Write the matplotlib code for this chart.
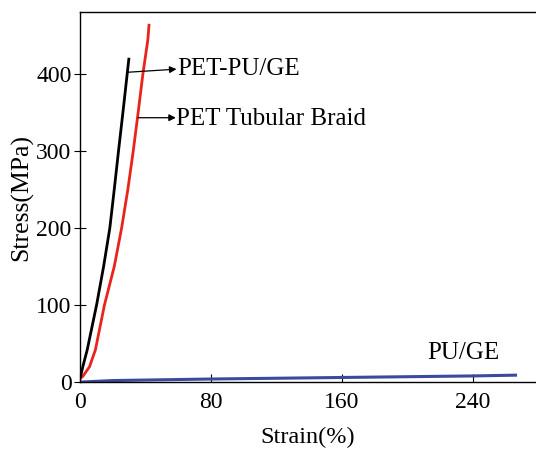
import numpy as np
import matplotlib
matplotlib.use('Agg')
import matplotlib.pyplot as plt

plt.rcParams['font.family'] = ['Liberation Serif', 'DejaVu Serif']

# PET-PU/GE (black)
strain_pet_pu = [0, 0.6, 1.8, 4.5, 10.2, 14.5, 18.3, 21, 23.6, 26.3, 28.9, 29.9]
stress_pet_pu = [5, 9, 20, 42, 100, 150, 200, 250, 300, 350, 400, 419]

# PET Tubular Braid (red)
strain_braid = [0, 2, 5.9, 9.5, 15, 21, 25.5, 29.3, 32.6, 35.6, 38.5, 41.5, 42.2]
stress_braid = [4, 8, 20, 42, 100, 150, 200, 250, 300, 350, 400, 444, 463]

# PU/GE (blue)
strain_pu = [0, 20, 80, 160, 240, 266]
stress_pu = [0, 2, 4, 6, 8, 9]

xticks = [0, 80, 160, 240]
yticks = [0, 100, 200, 300, 400]

fig = plt.figure(figsize=(5.36, 4.49), dpi=100)
ax = fig.add_axes([0.149, 0.149, 0.851, 0.824])

ax.plot(strain_pu, stress_pu, color='#3a4a9e', lw=2.2)
ax.plot(strain_braid, stress_braid, color='#e8241c', lw=2.0)
ax.plot(strain_pet_pu, stress_pet_pu, color='black', lw=2.0)

ax.set_xlim(0, 278.5)
ax.set_ylim(0, 480)
ax.set_xticks(xticks)
ax.set_yticks(yticks)
ax.spines['right'].set_visible(False)
for s in ['left', 'top', 'bottom']:
    ax.spines[s].set_linewidth(1.0)
ax.tick_params(axis='x', direction='in', length=6, pad=7, labelsize=17)
ax.tick_params(axis='y', direction='inout', length=8, pad=2, labelsize=17)

ax.set_xlabel('Strain(%)', fontsize=17.5, labelpad=10)
ax.set_ylabel('Stress(MPa)', fontsize=18.5, labelpad=2)

# Flechas de las etiquetas
arrow = dict(arrowstyle='-|>', color='black', lw=0.9, mutation_scale=10,
             shrinkA=0, shrinkB=0)
ax.annotate('', xy=(59, 406), xytext=(29.3, 402), arrowprops=arrow)
ax.text(59.5, 406, 'PET-PU/GE', fontsize=18, va='center', ha='left')
ax.annotate('', xy=(58.6, 343), xytext=(35.6, 343), arrowprops=arrow)
ax.text(59, 341, 'PET Tubular Braid', fontsize=18, va='center', ha='left')
ax.text(212, 38, 'PU/GE', fontsize=18, va='center', ha='left')

fig.savefig('out.png', dpi=100)
